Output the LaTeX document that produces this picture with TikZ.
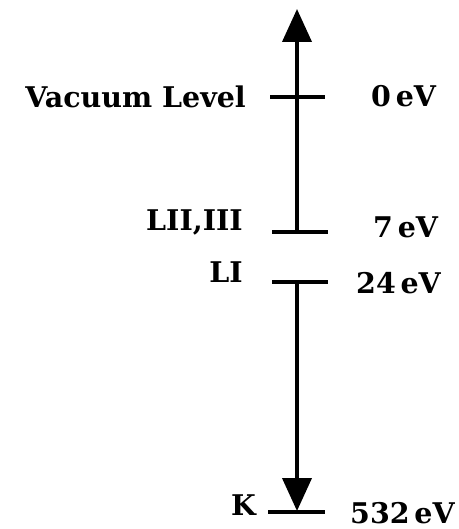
\documentclass[tikz,border=0pt]{standalone}
\usepackage{fontspec}
\setmainfont{DejaVu Serif}
\usetikzlibrary{arrows.meta}
\begin{document}
\begin{tikzpicture}[x=1pt,y=-1pt,
  lvl/.style={line width=4pt},
  arr/.style={line width=4pt,-{Triangle[length=33pt,width=29pt]}},
  lbl/.style={font=\fontsize{28.5}{32}\selectfont\bfseries,inner sep=0pt}]
\useasboundingbox (0,0) rectangle (458,529);
% level lines
\coordinate (vacL) at (270,97);  \coordinate (vacR) at (325,97);
\coordinate (l23L) at (272,232); \coordinate (l23R) at (328,232);
\coordinate (l1L) at (272,282);  \coordinate (l1R) at (328,282);
\coordinate (kL) at (268,512);   \coordinate (kR) at (325,512);
\coordinate (upS) at (297,232);  \coordinate (upE) at (297,9);
\coordinate (dnS) at (297,282);  \coordinate (dnE) at (297,511);
\draw[lvl] (vacL) -- (vacR);
\draw[lvl] (l23L) -- (l23R);
\draw[lvl] (l1L) -- (l1R);
\draw[lvl] (kL) -- (kR);
\draw[arr] (upS) -- (upE);
\draw[arr] (dnS) -- (dnE);
% labels
\node[lbl,anchor=base east] (tvac) at (246,108) {Vacuum Level};
\node[lbl,anchor=base west] (evac) at (371,107) {0\,eV};
\node[lbl,anchor=base east] (t23) at (243,230) {LII,III};
\node[lbl,anchor=base west] (e23) at (373,237) {7\,eV};
\node[lbl,anchor=base east] (t1) at (243,282) {LI};
\node[lbl,anchor=base west] (e1) at (356,293) {24\,eV};
\node[lbl,anchor=base east] (tk) at (256,515) {K};
\node[lbl,anchor=base west] (ek) at (350,523) {532\,eV};
\end{tikzpicture}
\end{document}
